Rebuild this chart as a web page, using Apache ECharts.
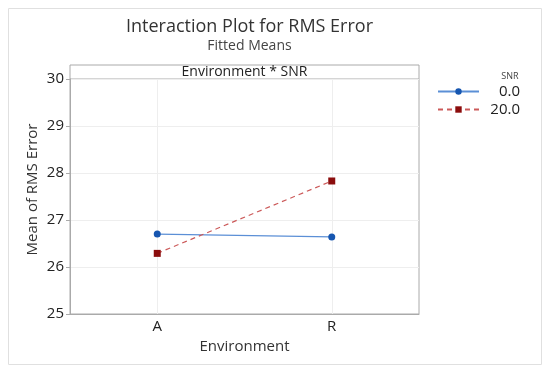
<!DOCTYPE html>
<html><head><meta charset="utf-8">
<script src="https://cdn.jsdelivr.net/npm/echarts@6/dist/echarts.min.js"></script>
<style>html,body{margin:0;padding:0;background:#fff}#c{width:550px;height:374px}</style>
</head><body><div id="c"></div>
<script>
const categories = ['A', 'R'];
const snr0 = [26.70, 26.64];
const snr20 = [26.29, 27.83];
const yTicks = [25, 26, 27, 28, 29, 30];
const seriesNames = ['0.0', '20.0'];

const F = 'Open Sans';
const chart = echarts.init(document.getElementById('c'));
chart.setOption({
  animation: false,
  textStyle: { fontFamily: F },
  title: [
    { text: 'Interaction Plot for RMS Error', left: 244.5, textAlign: 'center', top: 13,
      textStyle: { fontFamily: F, fontSize: 18, fontWeight: 'normal', color: '#333' } },
    { text: 'Fitted Means', left: 244.5, textAlign: 'center', top: 34,
      textStyle: { fontFamily: F, fontSize: 14, fontWeight: 'normal', color: '#444' } }
  ],
  grid: { left: 70, top: 79, width: 349, height: 235, show: true, borderColor: '#aaa', borderWidth: 1 },
  xAxis: {
    type: 'category', data: categories, boundaryGap: true,
    name: 'Environment', nameLocation: 'middle', nameGap: 22,
    nameTextStyle: { fontFamily: F, fontSize: 15, color: '#333' },
    axisLine: { lineStyle: { color: '#aaa' } },
    axisTick: { alignWithLabel: true, length: 4, lineStyle: { color: '#aaa' } },
    axisLabel: { fontFamily: F, fontSize: 15, color: '#222', margin: 5 },
    splitLine: { show: false }
  },
  yAxis: {
    type: 'value', min: yTicks[0], max: yTicks[yTicks.length - 1], interval: 1,
    axisLine: { show: true, lineStyle: { color: '#aaa' } },
    axisTick: { show: true, length: 4, lineStyle: { color: '#aaa' } },
    axisLabel: { fontFamily: F, fontSize: 15, color: '#222', margin: 6 },
    splitLine: { show: true, lineStyle: { color: '#eee' } }
  },
  legend: {
    orient: 'vertical', left: 437, top: 84, itemWidth: 41, itemHeight: 8, itemGap: 3, padding: 0,
    data: seriesNames,
    formatter: function (n) { return '{t|' + n + '}'; },
    textStyle: { fontFamily: F, fontSize: 15, color: '#222',
      rich: { t: { width: 36, align: 'right', fontFamily: F, fontSize: 15, color: '#222' } } }
  },
  graphic: [
    { type: 'rect', shape: { x: 8.5, y: 8.5, width: 533, height: 356 }, style: { fill: 'none', stroke: '#e0e0e0', lineWidth: 1 }, silent: true },
    { type: 'rect', shape: { x: 70, y: 65, width: 349, height: 14 }, style: { fill: '#fff', stroke: '#aaa', lineWidth: 1 }, silent: true },
    { type: 'text', x: 244.5, y: 72, style: { text: 'Environment * SNR', fontFamily: F, fontSize: 14, fill: '#222', align: 'center', verticalAlign: 'middle' }, silent: true },
    { type: 'text', x: 510, y: 76, style: { text: 'SNR', fontFamily: F, fontSize: 9, fill: '#444', align: 'center', verticalAlign: 'middle' }, silent: true },
    { type: 'text', x: 33, y: 189.5, rotation: Math.PI / 2, style: { text: 'Mean of RMS Error', fontFamily: F, fontSize: 15, fill: '#333', align: 'center', verticalAlign: 'middle' }, silent: true }
  ],
  series: [
    { name: 'grid', type: 'line', data: [], z: 1, silent: true,
      markLine: { silent: true, symbol: 'none', label: { show: false },
        lineStyle: { color: '#eee', type: 'solid', width: 1 },
        data: categories.map(c => ({ xAxis: c })) } },
    { name: seriesNames[0], type: 'line', data: snr0, symbol: 'circle', symbolSize: 7, z: 5,
      itemStyle: { color: '#1656b0' }, lineStyle: { color: '#5b8fd6', width: 1.2 } },
    { name: seriesNames[1], type: 'line', data: snr20, symbol: 'rect', symbolSize: 7, z: 5,
      itemStyle: { color: '#8b0d0d' }, lineStyle: { color: '#cc5a5a', width: 1.2, type: [5, 4] } }
  ]
});
</script></body></html>
